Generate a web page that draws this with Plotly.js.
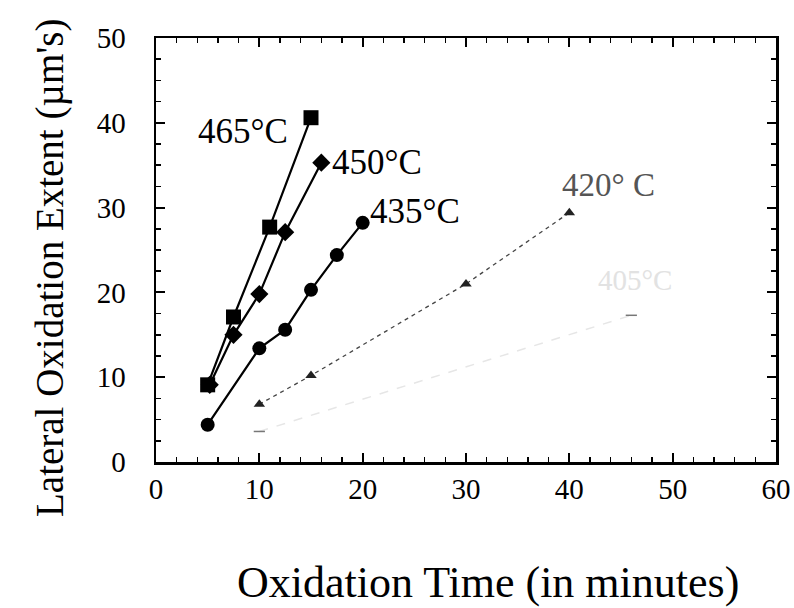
<!DOCTYPE html>
<html>
<head>
<meta charset="utf-8">
<script src="https://cdn.plot.ly/plotly-3.0.1.min.js"></script>
<style>
  html, body { margin: 0; padding: 0; background: #ffffff; }
  #chart { width: 794px; height: 608px; }
</style>
</head>
<body>
<div id="chart"></div>
<script>
// Oxidation time (minutes) and lateral oxidation extent (µm) per furnace temperature
const time465 = [5, 7.5, 11, 15];
const extent465 = [9.1, 17.1, 27.7, 40.6];

const time450 = [5.2, 7.5, 10, 12.5, 16];
const extent450 = [9.1, 15.0, 19.8, 27.1, 35.3];

const time435 = [5, 10, 12.5, 15, 17.5, 20];
const extent435 = [4.4, 13.4, 15.6, 20.3, 24.4, 28.2];

const time420 = [10, 15, 30, 40];
const extent420 = [6.8, 10.2, 21.0, 29.4];

const time405 = [10, 46];
const extent405 = [3.6, 17.3];

const seriesLabels = ['465°C', '450°C', '435°C', '420° C', '405°C'];
const xTickVals = [0, 10, 20, 30, 40, 50, 60];
const yTickVals = [0, 10, 20, 30, 40, 50];
const xTitle = 'Oxidation Time (in minutes)';
const yTitle = 'Lateral Oxidation Extent (µm\'s)';

const serif = 'Liberation Serif, Times New Roman, serif';

const traces = [
  {
    x: time405, y: extent405, mode: 'lines+markers', name: seriesLabels[4],
    line: { color: '#e6e6e6', width: 1.5, dash: 'dash' },
    marker: { symbol: 'line-ew', size: 8, color: '#888888', line: { color: '#777777', width: 1.5 } }
  },
  {
    x: time420, y: extent420, mode: 'lines+markers', name: seriesLabels[3],
    line: { color: '#444444', width: 1.3, dash: '4px,4px' },
    marker: { symbol: 'triangle-up', size: 10, color: '#222222' }
  },
  {
    x: time435, y: extent435, mode: 'lines+markers', name: seriesLabels[2],
    line: { color: '#000000', width: 2.2 },
    marker: { symbol: 'circle', size: 14, color: '#000000' }
  },
  {
    x: time450, y: extent450, mode: 'lines+markers', name: seriesLabels[1],
    line: { color: '#000000', width: 2.2 },
    marker: { symbol: 'diamond', size: 14, color: '#000000' }
  },
  {
    x: time465, y: extent465, mode: 'lines+markers', name: seriesLabels[0],
    line: { color: '#000000', width: 2.2 },
    marker: { symbol: 'square', size: 15, color: '#000000' }
  }
];

// Temperature labels beside the end of each curve, plus the two axis titles
const labelFont = { family: serif, size: 35, color: '#000000' };
const annotations = [
  { x: 13.0, y: 39.0, text: seriesLabels[0], xanchor: 'right', yanchor: 'middle', showarrow: false, font: labelFont },
  { x: 16.8, y: 35.3, text: seriesLabels[1], xanchor: 'left', yanchor: 'middle', showarrow: false, font: labelFont },
  { x: 20.5, y: 29.5, text: seriesLabels[2], xanchor: 'left', yanchor: 'middle', showarrow: false, font: labelFont },
  { x: 39.1, y: 32.7, text: seriesLabels[3], xanchor: 'left', yanchor: 'middle', showarrow: false,
    font: { family: serif, size: 33, color: '#555555' } },
  { x: 42.6, y: 21.5, text: seriesLabels[4], xanchor: 'left', yanchor: 'middle', showarrow: false,
    font: { family: serif, size: 29, color: '#e2e2e2' } },
  { xref: 'paper', yref: 'paper', x: 0.535, y: -0.285, text: xTitle, xanchor: 'center', yanchor: 'middle',
    showarrow: false, font: { family: serif, size: 44, color: '#000000' } },
  { xref: 'paper', yref: 'paper', x: -0.171, y: 0.4575, text: yTitle, textangle: -90, xanchor: 'center', yanchor: 'middle',
    showarrow: false, font: { family: serif, size: 39, color: '#000000' } }
];

const layout = {
  width: 794,
  height: 608,
  margin: { l: 156, r: 18, t: 38, b: 146 },
  paper_bgcolor: '#ffffff',
  plot_bgcolor: '#ffffff',
  showlegend: false,
  font: { family: serif, color: '#000000' },
  xaxis: {
    range: [0, 60],
    tickvals: xTickVals,
    ticktext: xTickVals.map(String),
    ticks: 'inside', ticklen: 9, tickwidth: 2, tickcolor: '#000000',
    minor: { dtick: 2, ticks: 'inside', ticklen: 5, tickwidth: 1.5, tickcolor: '#000000' },
    showline: true, linecolor: '#000000', linewidth: 2.5, mirror: 'allticks',
    showgrid: false, zeroline: false,
    tickfont: { family: serif, size: 29, color: '#000000' },
    ticklabelstandoff: 0
  },
  yaxis: {
    range: [0, 50],
    tickvals: yTickVals,
    ticktext: yTickVals.map(String),
    ticks: 'inside', ticklen: 9, tickwidth: 2, tickcolor: '#000000',
    minor: { dtick: 2.5, ticks: 'inside', ticklen: 5, tickwidth: 1.5, tickcolor: '#000000' },
    showline: true, linecolor: '#000000', linewidth: 2.5, mirror: 'allticks',
    showgrid: false, zeroline: false,
    tickfont: { family: serif, size: 29, color: '#000000' },
    ticklabelstandoff: 22
  },
  annotations: annotations
};

Plotly.newPlot('chart', traces, layout, { displayModeBar: false, staticPlot: true });
</script>
</body>
</html>
